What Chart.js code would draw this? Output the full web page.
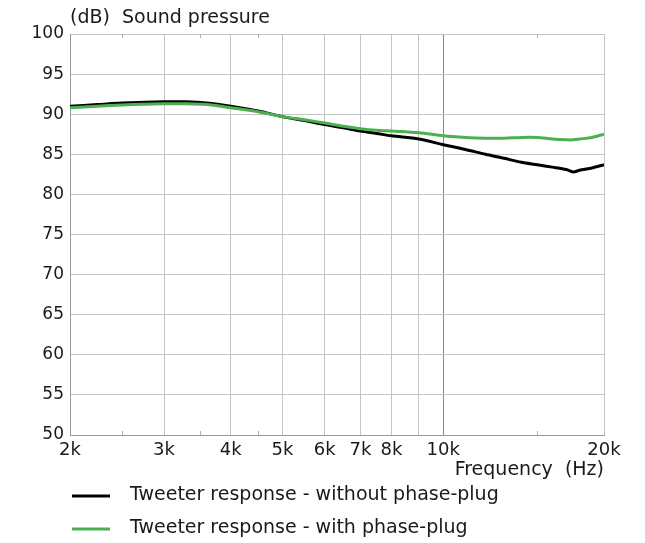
<!DOCTYPE html>
<html>
<head>
<meta charset="utf-8">
<script src="https://cdn.jsdelivr.net/npm/chart.js@4"></script>
<style>
  html, body { margin: 0; padding: 0; background: #fff; }
  #wrap { width: 645px; height: 543px; position: relative; }
</style>
</head>
<body>
<div id="wrap"><canvas id="chart"></canvas></div>
<script>
// frequency points (Hz)
const freqs = [2000, 2250, 2500, 2750, 3000, 3300, 3600, 4000, 4500, 5000, 5500, 6000, 6500, 7000, 7500, 8000, 9000, 10000, 11000, 12000, 13000, 14000, 15000, 16000, 17000, 17500, 18000, 19000, 20000];
// dB, without phase-plug (black)
const withoutPlug = [91.0, 91.2, 91.4, 91.5, 91.55, 91.55, 91.4, 91.0, 90.4, 89.7, 89.2, 88.7, 88.3, 87.9, 87.6, 87.3, 86.9, 86.2, 85.6, 85.0, 84.5, 84.0, 83.7, 83.4, 83.1, 82.8, 83.0, 83.3, 83.7];
// dB, with phase-plug (green)
const withPlug = [90.8, 91.0, 91.15, 91.25, 91.3, 91.3, 91.2, 90.8, 90.3, 89.7, 89.3, 88.9, 88.5, 88.2, 88.0, 87.9, 87.7, 87.3, 87.1, 87.0, 87.0, 87.1, 87.1, 86.9, 86.8, 86.8, 86.9, 87.1, 87.5];

const xLabelled = [2000, 3000, 4000, 5000, 6000, 7000, 8000, 10000, 20000];
const xGridOnly = [9000];
const xMinor = [2500, 3500, 4500, 15000];
const yTicks = [50, 55, 60, 65, 70, 75, 80, 85, 90, 95, 100];

const seriesLabels = ['Tweeter response - without phase-plug', 'Tweeter response - with phase-plug'];
const seriesColours = ['#000000', '#4cb050'];

const FONT = '"DejaVu Sans", Verdana, sans-serif';
const TEXT = '#1a1a1a';

function toPoints(ys) {
    return freqs.map((f, i) => ({ x: f, y: ys[i] }));
}

const extras = {
    id: 'extras',
    afterDraw(chart) {
        const ctx = chart.ctx;
        const area = chart.chartArea;
        const xs = chart.scales.x;
        ctx.save();
        // minor tick marks on top and bottom
        ctx.strokeStyle = '#b0b0b0';
        ctx.lineWidth = 1;
        xMinor.forEach(f => {
            const px = Math.round(xs.getPixelForValue(f)) + 0.5;
            ctx.beginPath();
            ctx.moveTo(px, area.bottom);
            ctx.lineTo(px, area.bottom - 4);
            ctx.moveTo(px, area.top);
            ctx.lineTo(px, area.top + 4);
            ctx.stroke();
        });
        // axis titles
        ctx.fillStyle = TEXT;
        ctx.font = '19px ' + FONT;
        ctx.textBaseline = 'middle';
        ctx.textAlign = 'left';
        ctx.fillText('(dB)  Sound pressure', area.left, 18);
        ctx.textAlign = 'right';
        ctx.fillText('Frequency  (Hz)', area.right, 470);
        // legend
        ctx.textAlign = 'left';
        chart.data.datasets.forEach((ds, i) => {
            const y = 496 + i * 33;
            ctx.strokeStyle = ds.borderColor;
            ctx.lineWidth = 3;
            ctx.beginPath();
            ctx.moveTo(72, y);
            ctx.lineTo(110, y);
            ctx.stroke();
            ctx.fillStyle = TEXT;
            ctx.fillText(ds.label, 130, y - 1);
        });
        ctx.restore();
    }
};

new Chart(document.getElementById('chart'), {
    type: 'line',
    data: {
        datasets: [
            {
                label: seriesLabels[0],
                data: toPoints(withoutPlug),
                borderColor: seriesColours[0],
                borderWidth: 3,
                pointRadius: 0,
                tension: 0.3,
                order: 1
            },
            {
                label: seriesLabels[1],
                data: toPoints(withPlug),
                borderColor: seriesColours[1],
                borderWidth: 3,
                pointRadius: 0,
                tension: 0.3,
                order: 0
            }
        ]
    },
    options: {
        responsive: true,
        maintainAspectRatio: false,
        animation: false,
        layout: { padding: { top: 34, right: 41, left: 0, bottom: 0 } },
        plugins: {
            legend: { display: false },
            tooltip: { enabled: false }
        },
        scales: {
            x: {
                type: 'logarithmic',
                min: 2000,
                max: 20000,
                afterBuildTicks: scale => {
                    scale.ticks = xLabelled.concat(xGridOnly).sort((a, b) => a - b).map(v => ({ value: v }));
                },
                afterFit: scale => { scale.height = 108; },
                ticks: {
                    autoSkip: false,
                    maxRotation: 0,
                    padding: 5,
                    color: TEXT,
                    font: { family: FONT, size: 18 },
                    callback: v => xLabelled.includes(v) ? (v / 1000) + 'k' : ''
                },
                grid: {
                    drawTicks: false,
                    color: ctx => ctx.tick && ctx.tick.value === 10000 ? '#8a8a8a' : '#c4c4c4',
                    lineWidth: 1
                },
                border: { color: '#9a9a9a', width: 1 }
            },
            y: {
                min: 50,
                max: 100,
                afterBuildTicks: scale => {
                    scale.ticks = yTicks.map(v => ({ value: v }));
                },
                afterFit: scale => { scale.width = 70; },
                ticks: {
                    padding: 6,
                    color: TEXT,
                    font: { family: FONT, size: 17 }
                },
                grid: {
                    drawTicks: false,
                    color: '#c4c4c4',
                    lineWidth: 1
                },
                border: { color: '#9a9a9a', width: 1 }
            }
        }
    },
    plugins: [extras]
});
</script>
</body>
</html>
